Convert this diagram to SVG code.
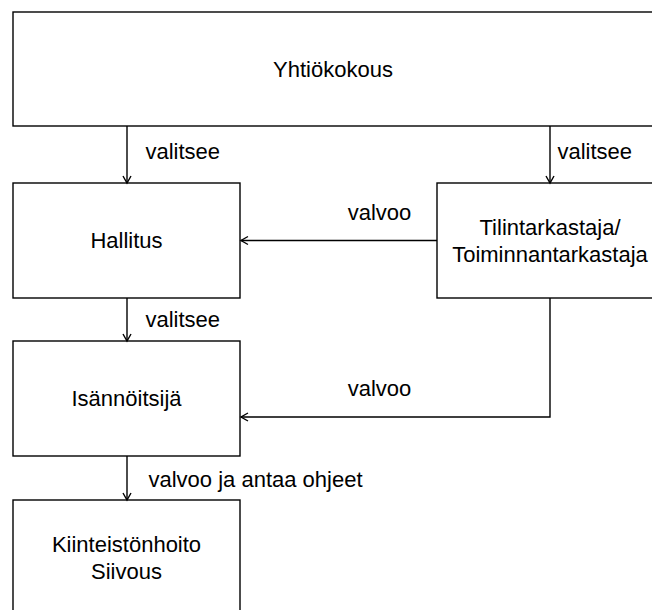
<svg xmlns="http://www.w3.org/2000/svg" width="652" height="610" viewBox="0 0 652 610">
<style>
.box{fill:#ffffff;stroke:#000000;stroke-width:1.4}
.t{font-family:"Liberation Sans",Arial,sans-serif;font-size:22px;fill:#000000}
.c{text-anchor:middle}
.e{fill:none;stroke:#000000;stroke-width:1.4}
</style>
<defs>
<marker id="arr" markerUnits="userSpaceOnUse" markerWidth="12" markerHeight="12" viewBox="-9 -6 12 12" refX="0" refY="0" orient="auto">
<path d="M -7 -4 L 0 0 L -7 4" fill="none" stroke="#000000" stroke-width="1.4"/>
</marker>
</defs>
<rect x="0" y="0" width="652" height="610" fill="#ffffff"/>
<g id="yhtiokokous">
<rect class="box" x="13" y="12" width="641" height="114"/>
<text class="t c" x="333" y="77">Yhtiökokous</text>
</g>
<g id="hallitus">
<rect class="box" x="13" y="183" width="227" height="115"/>
<text class="t c" x="126.5" y="248">Hallitus</text>
</g>
<g id="tilintarkastaja">
<rect class="box" x="437" y="183" width="227" height="115"/>
<text class="t c" x="550" y="235">Tilintarkastaja/</text>
<text class="t c" x="550" y="261.5">Toiminnantarkastaja</text>
</g>
<g id="isannoitsija">
<rect class="box" x="13" y="341" width="227" height="115"/>
<text class="t c" x="126.5" y="406">Isännöitsijä</text>
</g>
<g id="kiinteistonhoito">
<rect class="box" x="13" y="500" width="227" height="115"/>
<text class="t c" x="126.5" y="552">Kiinteistönhoito</text>
<text class="t c" x="126.5" y="578.5">Siivous</text>
</g>
<g id="connectors">
<path class="e" d="M 127 126 L 127 183" marker-end="url(#arr)"/>
<text class="t" x="145.5" y="159">valitsee</text>
<path class="e" d="M 550 126 L 550 183" marker-end="url(#arr)"/>
<text class="t" x="557.5" y="159">valitsee</text>
<path class="e" d="M 437 240.5 L 241 240.5" marker-end="url(#arr)"/>
<text class="t c" x="379.5" y="220">valvoo</text>
<path class="e" d="M 127 298 L 127 341" marker-end="url(#arr)"/>
<text class="t" x="145.5" y="327">valitsee</text>
<path class="e" d="M 550 298 L 550 417 L 241 417" marker-end="url(#arr)"/>
<text class="t c" x="379.5" y="396">valvoo</text>
<path class="e" d="M 127 456 L 127 500" marker-end="url(#arr)"/>
<text class="t" x="148.5" y="487">valvoo ja antaa ohjeet</text>
</g>
</svg>
